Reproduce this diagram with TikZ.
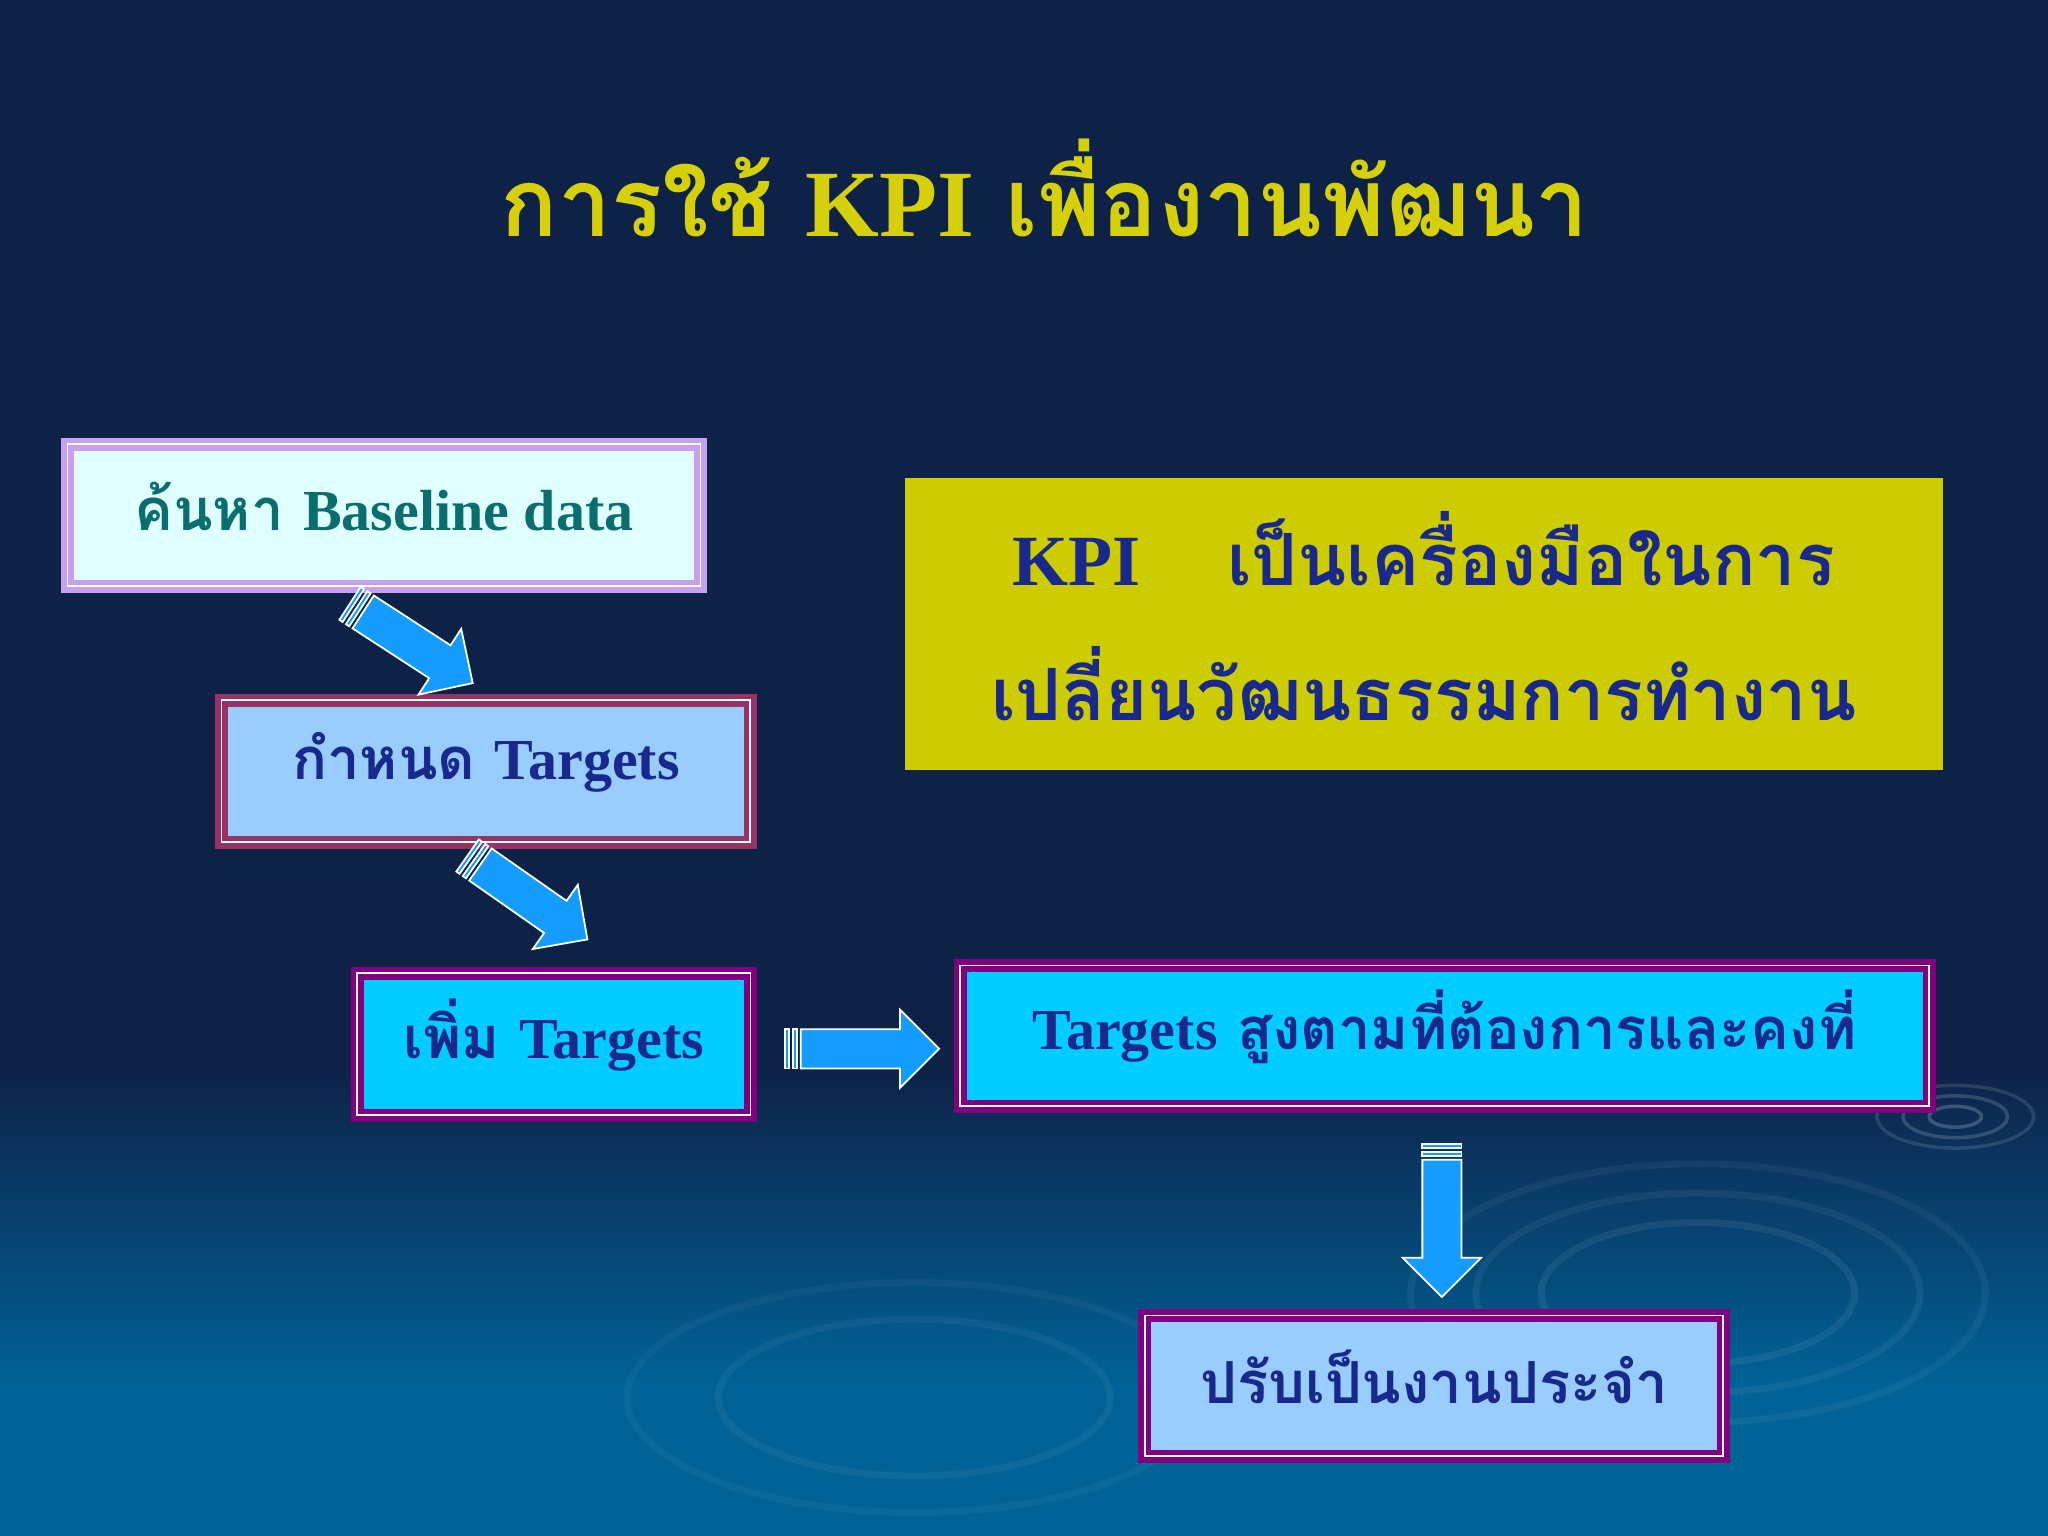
\documentclass[tikz,border=0pt]{standalone}
\usepackage{fontspec}
\setmainfont{Liberation Serif}
\newfontfamily\thai[Script=Thai]{Loma}
\newfontfamily\lat{Liberation Serif}
\definecolor{bgtop}{RGB}{14,34,72}
\definecolor{bgbot}{RGB}{0,98,150}
\definecolor{ttl}{RGB}{214,208,10}
\definecolor{ybox}{RGB}{204,204,0}
\definecolor{dkblue}{RGB}{24,40,140}
\definecolor{teal}{RGB}{10,110,110}
\definecolor{lav}{RGB}{200,160,240}
\definecolor{maroon}{RGB}{150,50,100}
\definecolor{purp}{RGB}{128,0,128}
\definecolor{lcyan}{RGB}{224,255,255}
\definecolor{lblue}{RGB}{153,204,255}
\definecolor{cyanbox}{RGB}{0,204,255}
\definecolor{arr}{RGB}{20,156,255}
\tikzset{
  bx/.style={draw=#1,line width=1.6pt,inner sep=0pt,
    double=white, double distance=0.5pt},
  sz/.style 2 args={minimum width={#1*0.3706pt},minimum height={#2*0.3706pt}},
  txt/.style={font=\thai\bfseries\fontsize{16.5}{20}\selectfont,text=dkblue,yshift=2.5pt},
  arrowshape/.style={fill=arr,draw=white,line width=0.5pt}
}
\newcommand{\blockarr}[4]{% x y angle length
 \begin{scope}[shift={(#1,#2)},rotate=#3]
  \filldraw[arrowshape] (0,-15) rectangle (3,15);
  \filldraw[arrowshape] (6,-15) rectangle (9,15);
  \filldraw[arrowshape] (12,-15) -- (#4-30,-15) -- (#4-30,-30) -- (#4,0) -- (#4-30,30) -- (#4-30,15) -- (12,15) -- cycle;
 \end{scope}}
\begin{document}
\begin{tikzpicture}[x=0.013061cm,y=-0.013061cm]
\useasboundingbox (0,0) rectangle (1568,1176);
\fill[bgtop] (0,0) rectangle (1568,820);
\shade[top color=bgtop,bottom color=bgbot] (0,819) rectangle (1568,1060);
\fill[bgbot] (0,1059) rectangle (1568,1176);
% ripples
\foreach \r/\o in {20/0.2,40/0.16,60/0.12}{\draw[white,opacity=\o,line width=1pt] (1497,855) ellipse ({\r} and {\r*0.4});}
\foreach \r/\o in {120/0.07,170/0.06,220/0.05}{\draw[white,opacity=\o,line width=2pt] (1300,990) ellipse ({\r} and {\r*0.45});}
\foreach \r/\o in {150/0.05,220/0.04}{\draw[white,opacity=\o,line width=2pt] (700,1070) ellipse ({\r} and {\r*0.4});}
% title
\node[font=\thai\bfseries\fontsize{27}{32}\selectfont,text=ttl] (title) at (800,144) {การใช้ {\lat\bfseries KPI} เพื่องานพัฒนา};
% yellow box
\node[fill=ybox,sz={797}{224},inner sep=0pt] (ybox) at (1090.5,478) {};
\node[txt,font=\thai\bfseries\fontsize{20.5}{26}\selectfont] (yl1) at (1090,427) {{\lat\bfseries KPI}\hspace{1.2em}เป็นเครื่องมือในการ};
\node[txt,font=\thai\bfseries\fontsize{20.5}{26}\selectfont] (yl2) at (1090,530) {เปลี่ยนวัฒนธรรมการทำงาน};
% boxes
\node[bx=lav,fill=lcyan,sz={486}{109}] (b1) at (294,394.5) {};
\node[txt,text=teal] at (b1) {ค้นหา {\lat\bfseries Baseline data}};
\node[bx=maroon,fill=lblue,sz={406}{109}] (b2) at (372,590.5) {};
\node[txt] at (b2) {กำหนด {\lat\bfseries Targets}};
\node[bx=purp,fill=cyanbox,sz={302}{109}] (b3) at (424,799.5) {};
\node[txt] at (b3) {เพิ่ม {\lat\bfseries Targets}};
\node[bx=purp,fill=cyanbox,sz={744}{108}] (b4) at (1106,793) {};
\node[txt] at (b4) {{\lat\bfseries Targets} สูงตามที่ต้องการและคงที่};
\node[bx=purp,fill=lblue,sz={444}{108}] (b5) at (1098,1061) {};
\node[txt] at (b5) {ปรับเป็นงานประจำ};
% arrows
\blockarr{268}{462}{-33}{112}
\blockarr{358}{655}{-35}{112}
\blockarr{601}{803}{0}{118}
\blockarr{1104}{876}{-90}{117}
\end{tikzpicture}
\end{document}
